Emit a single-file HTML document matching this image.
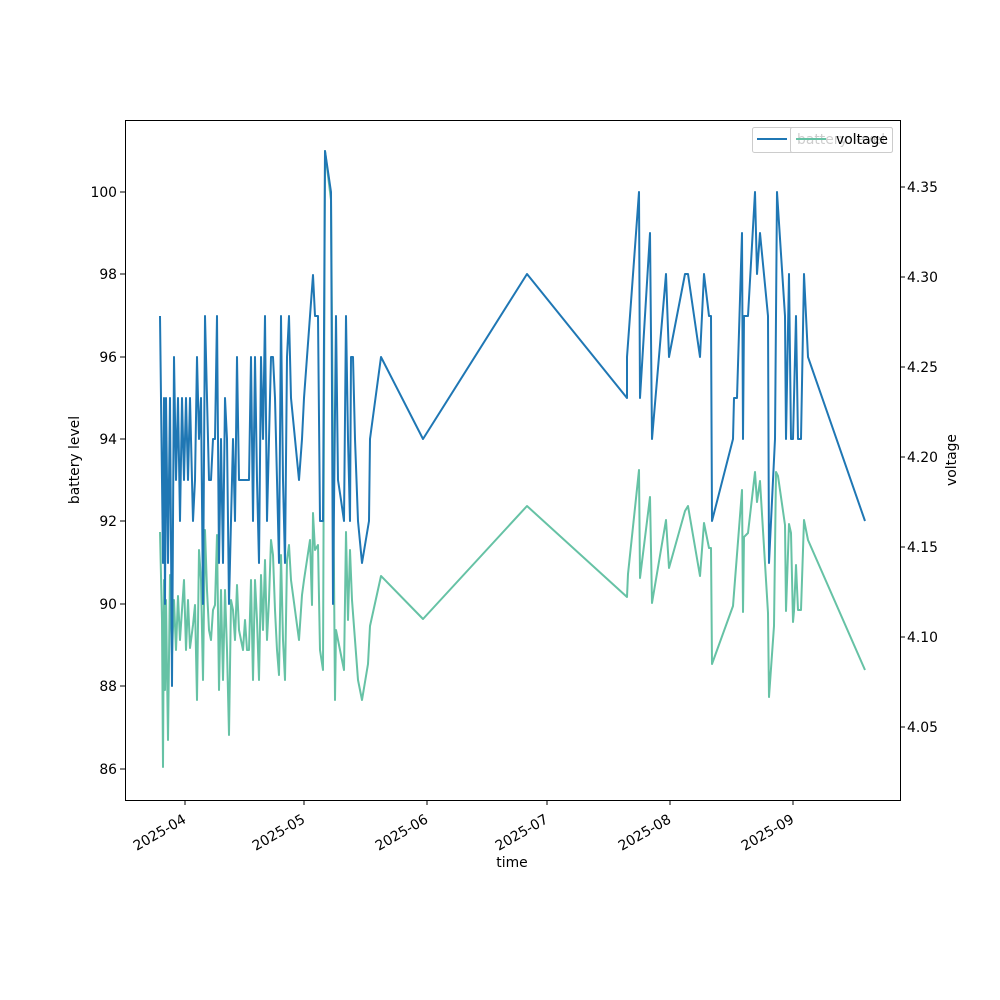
<!DOCTYPE html>
<html><head><meta charset="utf-8"><style>body{margin:0;background:#fff}svg{display:block;font-family:"DejaVu Sans","Liberation Sans",sans-serif}</style></head><body>
<svg width="1000" height="1000" viewBox="0 0 1000 1000" xmlns="http://www.w3.org/2000/svg">
<rect width="1000" height="1000" fill="#fff"/>
<g fill="none" stroke-linejoin="round" stroke-width="2">
<polyline stroke="#66c2a5" points="160,532 162,620 163,767 164,580 165,690 166,600 168,740 170,575 172,655 174,600 176,650 178,596 180,640 182,610 184,580 186,650 188,600 190,648 193,625 195,605 197,700 199,550 201,580 203,680 205,530 207,590 209,630 211,640 213,610 215,605 217,535 219,690 221,590 223,680 225,590 227,650 229,735 231,600 233,610 235,640 237,585 239,630 241,640 243,650 245,620 247,650 249,650 251,580 253,680 255,580 257,620 259,680 261,575 263,630 265,560 267,640 269,600 271,540 273,555 275,610 277,650 279,675 281,555 283,640 285,680 287,560 289,545 291,580 295,610 299,640 302,595 304,580 310,540 312,605 313,513 315,550 318,545 320,650 323,670 325,151 331,200 335,700 336,630 340,650 344,670 346,532 348,620 350,550 352,600 358,680 362,700 368,664 370,626 381,576 423,619 527,506 627,597 628,574 639,470 640,578 650,497 652,603 666,520 669,568 685,511 688,506 700,576 704,523 709,548 711,548 712,664 733,606 734,593 742,490 743,612 744,537 748,533 755,472 757,502 760,481 768,613 769,697 774,626 776,472 778,476 785,525 786,611 789,524 791,533 793,622 794,611 796,565 798,610 801,610 804,520 808,540 865,670"/>
<polyline stroke="#1f77b4" points="160,316 162,480 163,563 164,398 165,604 166,398 168,563 170,398 172,686 174,357 176,480 178,398 180,521 182,398 184,480 186,398 188,480 190,398 193,521 195,480 197,357 199,439 201,398 203,604 205,316 207,398 209,480 211,480 213,439 215,439 217,316 219,563 221,439 223,563 225,398 227,439 229,604 231,521 233,439 235,521 237,357 239,480 241,480 243,480 245,480 247,480 249,480 251,357 253,521 255,357 257,480 259,563 261,357 263,439 265,316 267,521 269,439 271,357 273,357 275,398 277,480 279,563 281,316 283,480 285,563 287,357 289,316 291,398 295,439 299,480 302,439 304,398 310,316 313,275 315,316 318,316 320,521 323,521 325,151 331,192 333,604 336,316 338,480 341,500 344,521 346,316 348,439 350,521 351,357 353,357 355,439 358,521 362,563 369,521 370,439 381,357 423,439 527,274 627,398 627,357 639,192 640,398 650,233 652,439 666,274 669,357 685,274 688,274 700,357 704,274 709,316 711,316 712,521 733,439 734,398 737,398 742,233 743,439 744,316 748,316 755,192 757,274 760,233 768,316 769,563 775,439 777,192 785,316 786,439 789,274 791,439 793,439 796,316 798,439 801,439 804,274 808,357 865,521"/>
</g>
<rect x="125.5" y="120.5" width="775" height="680" fill="none" stroke="#000" stroke-width="1"/>
<g stroke="#000" stroke-width="1">
<line x1="185" y1="800" x2="185" y2="805"/><line x1="304" y1="800" x2="304" y2="805"/><line x1="427" y1="800" x2="427" y2="805"/><line x1="547" y1="800" x2="547" y2="805"/><line x1="670" y1="800" x2="670" y2="805"/><line x1="793" y1="800" x2="793" y2="805"/>
<line x1="120" y1="192" x2="125" y2="192"/><line x1="120" y1="274" x2="125" y2="274"/><line x1="120" y1="357" x2="125" y2="357"/><line x1="120" y1="439" x2="125" y2="439"/><line x1="120" y1="521" x2="125" y2="521"/><line x1="120" y1="604" x2="125" y2="604"/><line x1="120" y1="686" x2="125" y2="686"/><line x1="120" y1="769" x2="125" y2="769"/>
<line x1="900" y1="187" x2="905" y2="187"/><line x1="900" y1="277" x2="905" y2="277"/><line x1="900" y1="367" x2="905" y2="367"/><line x1="900" y1="457" x2="905" y2="457"/><line x1="900" y1="547" x2="905" y2="547"/><line x1="900" y1="637" x2="905" y2="637"/><line x1="900" y1="727" x2="905" y2="727"/>
</g>
<g font-size="13.9" fill="#000">
<g text-anchor="end">
<text x="117" y="197">100</text><text x="117" y="279">98</text><text x="117" y="362">96</text><text x="117" y="444">94</text><text x="117" y="526">92</text><text x="117" y="609">90</text><text x="117" y="691">88</text><text x="117" y="774">86</text>
<text transform="translate(187,822) rotate(-30)">2025-04</text><text transform="translate(306,822) rotate(-30)">2025-05</text><text transform="translate(429,822) rotate(-30)">2025-06</text><text transform="translate(549,822) rotate(-30)">2025-07</text><text transform="translate(672,822) rotate(-30)">2025-08</text><text transform="translate(795,822) rotate(-30)">2025-09</text>
</g>
<text x="907" y="192">4.35</text><text x="907" y="282">4.30</text><text x="907" y="372">4.25</text><text x="907" y="462">4.20</text><text x="907" y="552">4.15</text><text x="907" y="642">4.10</text><text x="907" y="732">4.05</text>
<text x="512" y="867" text-anchor="middle">time</text>
<text transform="translate(79,460) rotate(-90)" text-anchor="middle">battery level</text>
<text transform="translate(956,460) rotate(-90)" text-anchor="middle">voltage</text>
</g>
<rect x="752.5" y="127.5" width="140" height="25" rx="2" fill="#fff" fill-opacity="0.8" stroke="#ccc"/>
<line x1="757" y1="139" x2="787" y2="139" stroke="#1f77b4" stroke-width="2"/>
<text x="797" y="144" font-size="13.9">battery level</text>
<rect x="790.5" y="127.5" width="102" height="25" rx="2" fill="#fff" fill-opacity="0.8" stroke="#ccc"/>
<line x1="796" y1="139" x2="826" y2="139" stroke="#66c2a5" stroke-width="2"/>
<text x="836" y="144" font-size="13.9">voltage</text>
</svg>
</body></html>
